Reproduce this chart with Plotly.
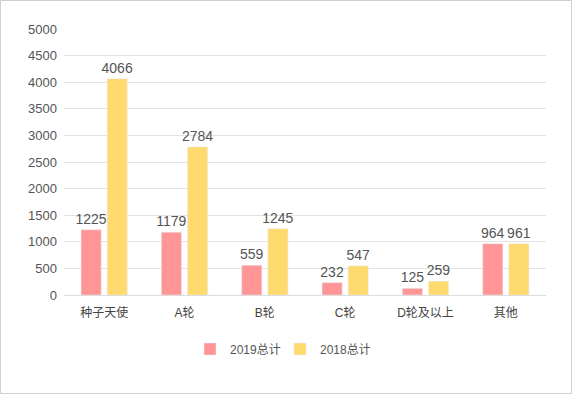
import plotly.graph_objects as go

categories = ["种子天使", "A轮", "B轮", "C轮", "D轮及以上", "其他"]
values_2019 = [1225, 1179, 559, 232, 125, 964]
values_2018 = [4066, 2784, 1245, 547, 259, 961]
series_names = ["2019总计", "2018总计"]

font_family = "Liberation Sans, Noto Sans CJK SC, sans-serif"
L, R, T, B = 64, 26, 29, 99
W, H = 572, 394
pw, ph = W - L - R, H - T - B

fig = go.Figure()
fig.add_trace(go.Bar(x=categories, y=values_2019, name=series_names[0],
                     marker_color="#FF9595", text=values_2019, textposition="outside",
                     constraintext="none",
                     textfont=dict(size=14, color="#555555"), cliponaxis=False))
fig.add_trace(go.Bar(x=categories, y=values_2018, name=series_names[1],
                     marker_color="#FFDA6E", text=values_2018, textposition="outside",
                     constraintext="none",
                     textfont=dict(size=14, color="#555555"), cliponaxis=False))

fig.update_layout(
    width=W, height=H,
    margin=dict(l=L, r=R, t=T, b=B, autoexpand=False),
    paper_bgcolor="white", plot_bgcolor="white",
    font=dict(family=font_family, size=12, color="#555555"),
    barmode="group", bargap=0.35, bargroupgap=0.23,
    legend=dict(orientation="h", x=(280 - L) / pw, xanchor="center",
                y=(H - B - 349) / ph, yanchor="middle",
                font=dict(size=12, color="#555555"), itemwidth=30,
                entrywidth=45),
    xaxis=dict(showgrid=False, showline=True, linecolor="#dddddd", linewidth=1,
               ticks="", tickfont=dict(size=12, color="#444444"),
               ticklabelstandoff=7),
    yaxis=dict(range=[0, 5000], dtick=500, showgrid=True, gridcolor="#e3e3e3",
               zeroline=False, showline=False, ticks="",
               tickfont=dict(size=13, color="#555555"), ticklabelstandoff=6),
    shapes=[dict(type="rect", xref="paper", yref="paper",
                 x0=(0.5 - L) / pw, x1=(W - 0.5 - L) / pw,
                 y0=(H - B - (H - 0.5)) / ph, y1=(H - B - 0.5) / ph,
                 line=dict(color="#d0d0d0", width=1), layer="below")],
)

fig.write_html("out.html", config={"displayModeBar": False},
               post_script="document.body.style.margin='0';document.body.style.padding='0';")
